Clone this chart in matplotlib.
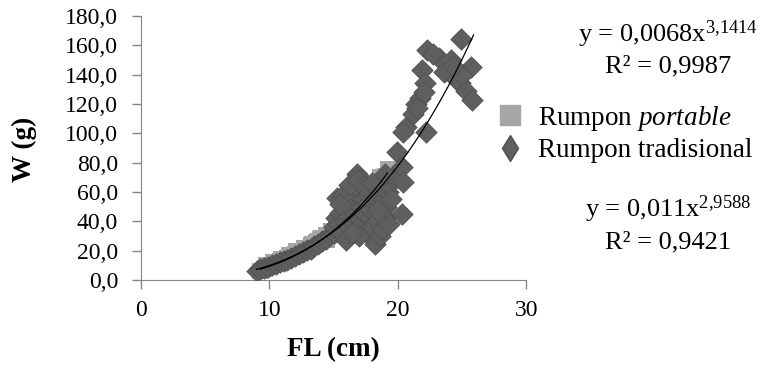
import numpy as np
import matplotlib.pyplot as plt
from matplotlib.lines import Line2D
from matplotlib.ticker import FuncFormatter

plt.rcParams["font.family"] = ["Liberation Serif", "DejaVu Serif"]
plt.rcParams["mathtext.fontset"] = "custom"
plt.rcParams["mathtext.rm"] = "Liberation Serif"
plt.rcParams["mathtext.it"] = "Liberation Serif:italic"

# Rumpon portable (light gray squares)
port_fl = [9.3, 9.6, 9.8, 10.0, 10.2, 10.4, 10.6, 10.8, 11.0, 11.2, 11.4, 11.6,
           11.8, 12.0, 12.2, 12.4, 12.6, 12.8, 13.0, 13.2, 13.4, 13.6, 13.8, 14.0,
           14.2, 14.4, 14.6, 14.8, 15.0, 15.2, 15.4, 15.6, 15.8, 16.0, 16.2, 16.5,
           16.8, 17.0, 17.3, 17.6, 17.9, 18.2, 18.5, 18.8, 19.0, 19.2, 18.6, 17.8,
           9.7, 10.3, 10.9, 11.5, 12.1, 12.7, 13.3, 13.9, 14.5, 15.1]
port_w = [6.5, 7.8, 8.8, 9.8, 10.5, 11.5, 11.8, 12.8, 13.5, 14.3, 14.8, 16.0,
          16.5, 17.8, 18.2, 19.6, 20.0, 21.5, 22.0, 23.8, 24.2, 26.0, 26.5, 28.5,
          28.6, 31.0, 30.5, 33.5, 32.5, 36.0, 35.5, 39.0, 38.0, 42.0, 41.5, 45.0,
          48.0, 50.0, 53.0, 56.0, 58.0, 62.0, 65.0, 68.0, 71.0, 76.0, 70.0, 64.0,
          10.5, 12.5, 14.5, 16.8, 19.5, 22.0, 24.8, 28.0, 27.0, 30.5]

# Rumpon tradisional (dark gray diamonds)
trad_fl = [9.0, 9.3, 9.6, 9.9, 10.2, 10.5, 10.8, 11.1, 11.4, 11.7, 12.0, 12.3,
           12.6, 12.9, 13.2, 13.5, 13.8, 14.1, 14.4, 14.7, 15.0,
           15.0, 15.2, 15.3, 15.4, 15.5, 15.6, 15.8, 15.9, 16.0, 16.0, 16.1, 16.2,
           16.3, 16.4, 16.5, 16.6, 16.6, 16.7, 16.8, 16.8, 16.9, 17.0, 17.0, 17.1,
           17.2, 17.2, 17.3, 17.4, 17.5, 17.5, 17.6, 17.7, 17.8, 17.9, 18.0, 18.0,
           18.1, 18.2, 18.2, 18.3, 18.4, 18.5, 18.6, 18.6, 18.7, 18.8, 18.9, 19.0,
           19.1, 19.2, 19.3, 19.3, 19.5, 19.6, 19.0,
           15.7, 16.2, 16.9, 17.4, 18.0, 18.4, 17.0, 16.4, 15.5,
           19.9, 20.3, 20.4, 20.3, 20.6, 20.4, 21.2, 21.4, 21.7, 21.9, 22.1, 22.2,
           22.3, 22.0, 21.5, 23.2, 23.6, 24.1, 24.9, 24.8, 25.3, 25.7, 25.8, 24.5,
           25.0, 22.7, 24.3]
trad_w = [6.5, 7.5, 8.3, 9.2, 10.0, 11.0, 12.0, 13.0, 14.0, 15.2, 16.3, 17.5,
          18.8, 20.2, 21.5, 23.0, 24.5, 26.5, 28.0, 30.5, 32.0,
          36.0, 42.0, 56.0, 38.0, 46.0, 33.0, 50.0, 40.0, 27.0, 55.0, 44.0, 36.0,
          60.0, 48.0, 40.0, 66.0, 52.0, 45.0, 72.5, 35.0, 58.0, 62.0, 42.0, 50.0,
          68.0, 38.0, 55.0, 46.0, 62.0, 33.0, 52.0, 58.0, 42.0, 48.0, 60.0, 36.0,
          54.0, 24.7, 45.0, 62.0, 40.0, 52.0, 30.0, 58.0, 46.0, 35.0, 55.0, 42.0,
          50.0, 60.0, 38.0, 65.0, 55.0, 70.0, 72.0,
          58.0, 65.0, 68.0, 64.0, 66.0, 48.0, 30.0, 32.0, 52.0,
          87.2, 77.0, 66.8, 45.2, 104.3, 100.9, 113.4, 120.0, 124.0, 143.0, 134.0, 100.9,
          156.6, 128.0, 117.0, 151.0, 141.8, 149.8, 164.0, 134.0, 129.0, 145.3, 122.5, 137.0,
          140.0, 154.0, 146.0]

# power trendlines y = a * x^b, drawn over [x0, x1]
port_fit = [0.0068, 3.1414, 9.3, 19.2]
trad_fit = [0.011, 2.9588, 9.0, 25.9]

fig = plt.figure(figsize=(7.6, 3.7), dpi=100)
ax = fig.add_axes([0.1855, 0.243, 0.507, 0.714])

ax.scatter(port_fl, port_w, marker="s", s=140, color="#a6a6a6", linewidths=0, zorder=2)
ax.scatter(trad_fl, trad_w, marker="D", s=120, color="#5f5f5f",
           edgecolors="#505050", linewidths=0.5, zorder=3)

for a, b, x0, x1 in (port_fit, trad_fit):
    xs = np.linspace(x0, x1, 100)
    ax.plot(xs, a * xs ** b, color="black", lw=0.9, zorder=4)

ax.set_xlim(0, 30)
ax.set_ylim(0, 180)
ax.set_xticks([0, 10, 20, 30])
ax.set_yticks(np.arange(0, 181, 20))
ax.yaxis.set_major_formatter(FuncFormatter(lambda v, p: f"{v:.1f}".replace(".", ",")))
for s in ("top", "right"):
    ax.spines[s].set_visible(False)
for s in ("left", "bottom"):
    ax.spines[s].set_color("#868686")
ax.tick_params(colors="#868686", length=6.5, width=1, labelsize=17, labelcolor="black")
ax.tick_params(axis="y", pad=10)
ax.tick_params(axis="x", pad=8)

fig.text(0.438, 0.054, "FL (cm)", ha="center", va="center", fontsize=19.5, fontweight="bold")
fig.text(0.032, 0.595, "W (g)", ha="center", va="center", rotation=90, fontsize=19.5,
         fontweight="bold")

handles = [Line2D([], [], ls="", marker="s", ms=14, color="#a6a6a6"),
           Line2D([], [], ls="", marker="d", ms=13, color="#5f5f5f", mec="#505050")]
fig.legend(handles, ["Rumpon $\\mathit{portable}$", "Rumpon tradisional"],
           loc="upper left", bbox_to_anchor=(0.655, 0.72), frameon=False,
           fontsize=19.5, handlelength=0.9, handletextpad=0.6, labelspacing=0.2,
           borderaxespad=0, borderpad=0)

fig.text(0.879, 0.8865, "y = 0,0068x$^{3{,}1414}$", ha="center", va="baseline", fontsize=19)
fig.text(0.879, 0.803, "R² = 0,9987", ha="center", va="baseline", fontsize=19)
fig.text(0.879, 0.4135, "y = 0,011x$^{2{,}9588}$", ha="center", va="baseline", fontsize=19)
fig.text(0.879, 0.3297, "R² = 0,9421", ha="center", va="baseline", fontsize=19)

fig.savefig("out.png", dpi=100)
